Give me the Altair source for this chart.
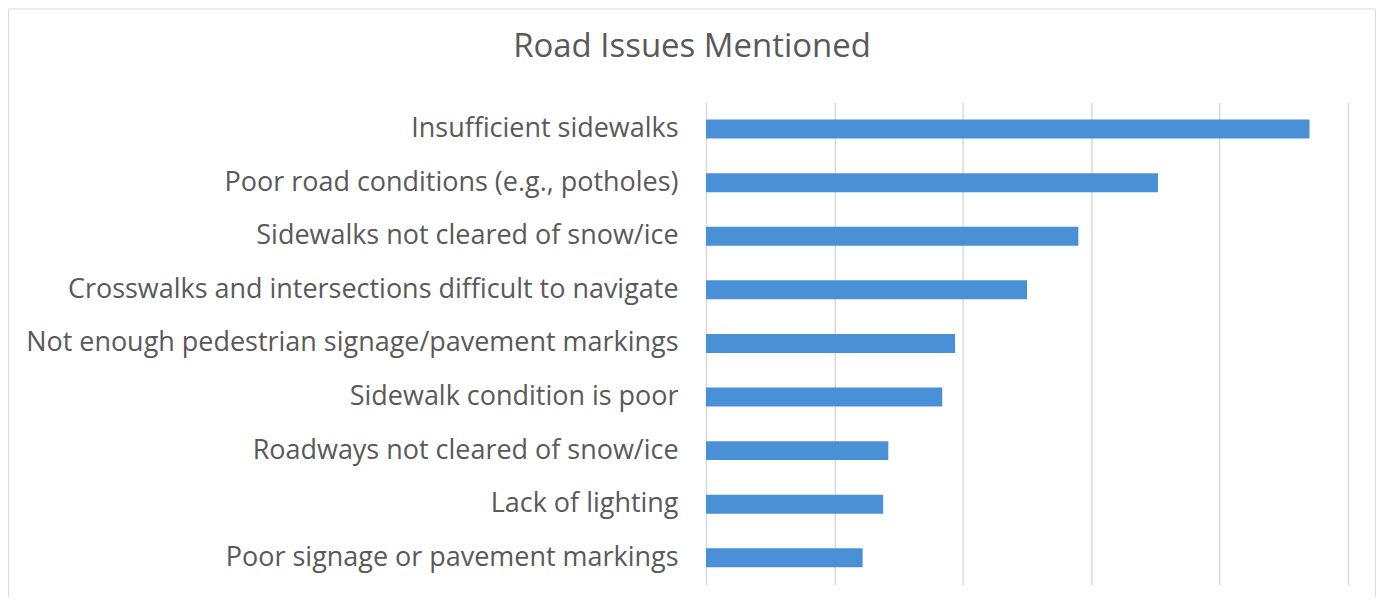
import altair as alt
import pandas as pd

issues = [
    "Insufficient sidewalks",
    "Poor road conditions (e.g., potholes)",
    "Sidewalks not cleared of snow/ice",
    "Crosswalks and intersections difficult to navigate",
    "Not enough pedestrian signage/pavement markings",
    "Sidewalk condition is poor",
    "Roadways not cleared of snow/ice",
    "Lack of lighting",
    "Poor signage or pavement markings",
]
mentions = [235, 176, 145, 125, 97, 92, 71, 69, 61]
grid_values = [0, 50, 100, 150, 200, 250]
chart_title = ["Road Issues Mentioned"]

df = pd.DataFrame({"issue": issues, "mentions": mentions})

FONT = "Open Sans"
TEXT = "#595959"

bars = alt.Chart(df).mark_bar(size=19, color="#4a90d6").encode(
    y=alt.Y(
        "issue:N",
        sort=issues,
        scale=alt.Scale(paddingInner=0, paddingOuter=0),
        axis=alt.Axis(
            title=None,
            labelFontSize=27,
            labelColor=TEXT,
            labelFont=FONT,
            labelPadding=28,
            labelLimit=700,
            ticks=False,
            domain=False,
            grid=False,
        ),
    ),
    x=alt.X(
        "mentions:Q",
        scale=alt.Scale(domain=[0, 250], nice=False),
        axis=alt.Axis(
            title=None,
            labels=False,
            ticks=False,
            domain=False,
            grid=True,
            values=grid_values,
            gridColor="#d9d9d9",
            gridWidth=1.5,
        ),
    ),
)

border_top = alt.Chart(pd.DataFrame({"k": [0]})).mark_rule(
    stroke="#d9d9d9", strokeWidth=1
).encode(x=alt.value(-698.5), x2=alt.value(670.5), y=alt.value(-93.5))
border_left = alt.Chart(pd.DataFrame({"k": [0]})).mark_rule(
    stroke="#d9d9d9", strokeWidth=1
).encode(x=alt.value(-698.5), y=alt.value(-93.5), y2=alt.value(600))
border_right = alt.Chart(pd.DataFrame({"k": [0]})).mark_rule(
    stroke="#d9d9d9", strokeWidth=1
).encode(x=alt.value(670.5), y=alt.value(-93.5), y2=alt.value(600))

title = alt.Chart(pd.DataFrame({"t": chart_title})).mark_text(
    font=FONT,
    fontSize=33,
    color=TEXT,
    align="center",
    baseline="alphabetic",
).encode(
    text="t:N",
    x=alt.value(-14),
    y=alt.value(-45),
)

chart = (
    alt.layer(border_top, border_left, border_right, bars, title)
    .properties(
        width=643,
        height=483,
        autosize=alt.AutoSizeParams(type="none"),
        padding={"left": 699, "top": 94, "right": 28, "bottom": 12},
        view=alt.ViewBackground(strokeOpacity=0, strokeWidth=0),
    )
    .configure_view(strokeOpacity=0, strokeWidth=0)
    .configure(background="white")
)

chart.save("out.html", embed_options={"renderer": "svg", "actions": False})
